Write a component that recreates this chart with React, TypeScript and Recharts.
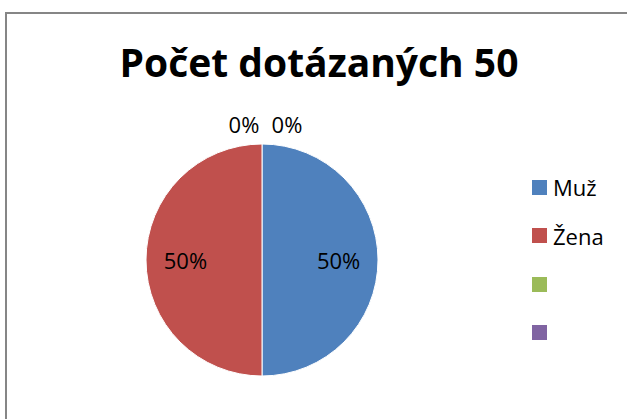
import React from "react"
import { PieChart, Pie, Cell } from "recharts"

const categories = ["Muž", "Žena", "", ""]
const counts = [25, 25, 0, 0]
const colors = ["#4F81BD", "#C0504D", "#9BBB59", "#8064A2"]
const title = "Počet dotázaných 50"

const data = categories.map((name, i) => ({ name, value: counts[i] }))

const RAD = Math.PI / 180
const font = "'Open Sans', 'Noto Sans', sans-serif"

const renderLabel = (props: any) => {
    const { cx, cy, midAngle, outerRadius, percent, index } = props
    let x, y
    if (counts[index] === 0) {
        // zero slices sit at the top, side by side
        x = cx + (index === 2 ? -18 : 25)
        y = cy - outerRadius - 20
    } else {
        const r = outerRadius * 0.66
        x = cx + r * Math.cos(-midAngle * RAD)
        y = cy + r * Math.sin(-midAngle * RAD)
    }
    return (
        <text x={x} y={y} fill="#000" fontSize={22} fontFamily={font} textAnchor="middle" dominantBaseline="central">
            {Math.round(percent * 100)}%
        </text>
    )
}

export default function App() {
    return (
        <div style={{ position: "absolute", left: 0, top: 0, width: 627, height: 419, overflow: "hidden", background: "#fff" }}>
            {/* chart frame, right and bottom edges fall outside */}
            <div style={{ position: "absolute", left: 5, top: 12, width: 660, height: 440, border: "2px solid #868686", boxSizing: "border-box" }} />
            <div style={{ position: "absolute", left: 0, top: 35, width: 638, textAlign: "center", fontFamily: font, fontWeight: 700, fontSize: 39, color: "#000", whiteSpace: "nowrap" }}>
                {title}
            </div>
            <div style={{ position: "absolute", left: 0, top: 0 }}>
                <PieChart width={627} height={419} margin={{ top: 0, right: 0, bottom: 0, left: 0 }}>
                    <Pie
                        data={data}
                        dataKey="value"
                        nameKey="name"
                        cx={262}
                        cy={260}
                        outerRadius={116}
                        startAngle={90}
                        endAngle={-270}
                        stroke="#fff"
                        strokeWidth={1}
                        label={renderLabel}
                        labelLine={false}
                        isAnimationActive={false}
                    >
                        {data.map((d, i) => (
                            <Cell key={d.name + i} fill={colors[i]} />
                        ))}
                    </Pie>
                </PieChart>
            </div>
            {/* legend */}
            <div style={{ position: "absolute", left: 532, top: 163 }}>
                {categories.map((c, i) => (
                    <div key={i} style={{ display: "flex", alignItems: "center", height: 48.5 }}>
                        <span style={{ width: 15, height: 15, background: colors[i], display: "inline-block", marginRight: 6 }} />
                        <span style={{ fontFamily: font, fontSize: 22, color: "#000" }}>{c}</span>
                    </div>
                ))}
            </div>
        </div>
    )
}
